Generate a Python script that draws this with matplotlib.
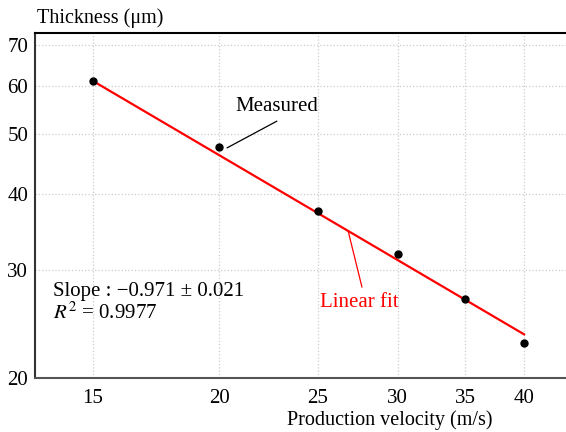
import numpy as np
import matplotlib as mpl
mpl.use('Agg')
from matplotlib import pyplot as plt

plt.rcParams['font.family'] = ['Liberation Serif', 'DejaVu Serif']
plt.rcParams['mathtext.fontset'] = 'stix'

velocity = [15, 20, 25, 30, 35, 40]
thickness = [61.1, 47.6, 37.4, 31.9, 26.9, 22.8]
x_ticks = [15, 20, 25, 30, 35, 40]
y_ticks = [20, 30, 40, 50, 60, 70]

# power-law fit: thickness = A * velocity ** slope
fit_slope = -0.971
fit_amp = 847.0
fit_x = np.array([15, 40])
fit_y = fit_amp * fit_x ** fit_slope

fig = plt.figure(figsize=(5.66, 4.32), dpi=100)
ax = fig.add_axes([0.062, 0.125, 0.938, 0.799])

ax.plot(fit_x, fit_y, color='red', lw=1.6, zorder=3)
ax.plot(velocity, thickness, 'o', color='black', ms=5, zorder=4)

ax.set_xscale('log')
ax.set_yscale('log')
ax.set_xlim(13.15, 44)
ax.set_ylim(20, 73.2)
ax.set_xticks(x_ticks)
ax.set_xticklabels([str(v) for v in x_ticks])
ax.set_yticks(y_ticks)
ax.set_yticklabels([str(v) for v in y_ticks])
ax.minorticks_off()
ax.tick_params(length=0, labelsize=15)
ax.tick_params(axis='x', pad=8)
ax.tick_params(axis='y', pad=5)
ax.grid(True, color='#cccccc', ls=':', lw=0.9)

ax.spines['right'].set_visible(False)
ax.spines['left'].set_color('#333333')
ax.spines['bottom'].set_color('#555555')
ax.spines['top'].set_color('black')
for s in ['left', 'bottom', 'top']:
    ax.spines[s].set_linewidth(1.5)

fig.text(0.066, 0.958, 'Thickness (\u03bcm)', fontsize=14.5, va='center', ha='left')
fig.text(0.689, 0.027, 'Production velocity (m/s)', fontsize=14.5, va='center', ha='center')

ax.annotate('Measured', xy=(20.35, 47.5), xytext=(22.8, 53.6),
            fontsize=15, ha='center', va='bottom',
            arrowprops=dict(arrowstyle='-', color='black', lw=0.9,
                            relpos=(0.62, 0.0), shrinkA=4, shrinkB=0))
ax.annotate('Linear fit', xy=(26.8, 34.8), xytext=(27.5, 26.6),
            fontsize=15, ha='center', va='center', color='red',
            arrowprops=dict(arrowstyle='-', color='red', lw=0.9,
                            relpos=(0.55, 1.0), shrinkA=2, shrinkB=0))

ax.text(0.034, 0.218, 'Slope : \u22120.971 \u00b1 0.021\n$R^2$ = 0.9977', transform=ax.transAxes,
        fontsize=15, va='center', ha='left', linespacing=1.05)

fig.savefig('out.png', dpi=100)
